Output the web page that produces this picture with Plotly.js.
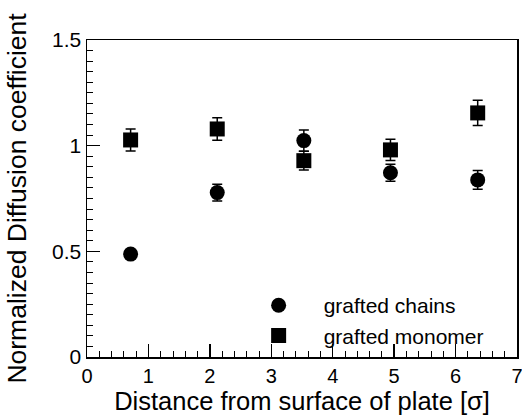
<!DOCTYPE html>
<html><head><meta charset="utf-8">
<script src="https://cdn.plot.ly/plotly-3.0.1.min.js"></script>
<style>body{margin:0;background:#fff;overflow:hidden}#c{width:522px;height:418px}</style>
</head><body><div id="c"></div>
<script>
var distance = [0.71, 2.12, 3.53, 4.94, 6.36];
var chainsD = [0.487, 0.778, 1.024, 0.872, 0.838];
var chainsErr = [0.01, 0.04, 0.05, 0.04, 0.044];
var monomerD = [1.027, 1.079, 0.929, 0.980, 1.155];
var monomerErr = [0.052, 0.053, 0.044, 0.05, 0.06];
var seriesNames = ['grafted chains', 'grafted monomer'];

var errStyle = {type:'data', visible:true, color:'#000', thickness:1.5, width:5};
var traces = [
  {x: distance, y: chainsD, name: seriesNames[0], mode:'markers', type:'scatter',
   marker:{symbol:'circle', size:15, color:'#000'},
   error_y: Object.assign({array: chainsErr}, errStyle)},
  {x: distance, y: monomerD, name: seriesNames[1], mode:'markers', type:'scatter',
   marker:{symbol:'square', size:15, color:'#000'},
   error_y: Object.assign({array: monomerErr}, errStyle)}
];
var font = {family:'Liberation Sans, Arial, sans-serif', color:'#000'};
var layout = {
  width:522, height:418,
  margin:{l:87, r:5, t:40, b:61},
  paper_bgcolor:'#fff', plot_bgcolor:'#fff',
  showlegend:true,
  legend:{x:0.341, y:0.003, xanchor:'left', yanchor:'bottom', bgcolor:'rgba(0,0,0,0)',
          font:Object.assign({size:21}, font), itemwidth:80, tracegroupgap:0},
  xaxis:{range:[0,7], dtick:1, ticks:'inside', ticklen:13, tickwidth:1.3, tickcolor:'#000',
         showline:true, linecolor:'#000', linewidth:1.5, mirror:true, showgrid:false, zeroline:false,
         tickfont:Object.assign({size:20}, font), ticklabeloverflow:'allow',
         minor:{dtick:0.2, ticks:'inside', ticklen:6, tickwidth:1, tickcolor:'#000'},
         title:{text:'Distance from surface of plate [σ]', font:Object.assign({size:25.5}, font), standoff:6}},
  yaxis:{range:[0,1.5], dtick:0.5, ticks:'inside', ticklen:13, tickwidth:1.3, tickcolor:'#000',
         showline:true, linecolor:'#000', linewidth:1.5, mirror:true, showgrid:false, zeroline:false,
         tickfont:Object.assign({size:21}, font), ticklabeloverflow:'allow',
         minor:{dtick:0.05, ticks:'inside', ticklen:6, tickwidth:1, tickcolor:'#000'},
         title:{text:'Normalized Diffusion coefficient', font:Object.assign({size:26.5}, font), standoff:18}}
};
Plotly.newPlot('c', traces, layout, {staticPlot:true, displayModeBar:false});
</script></body></html>
